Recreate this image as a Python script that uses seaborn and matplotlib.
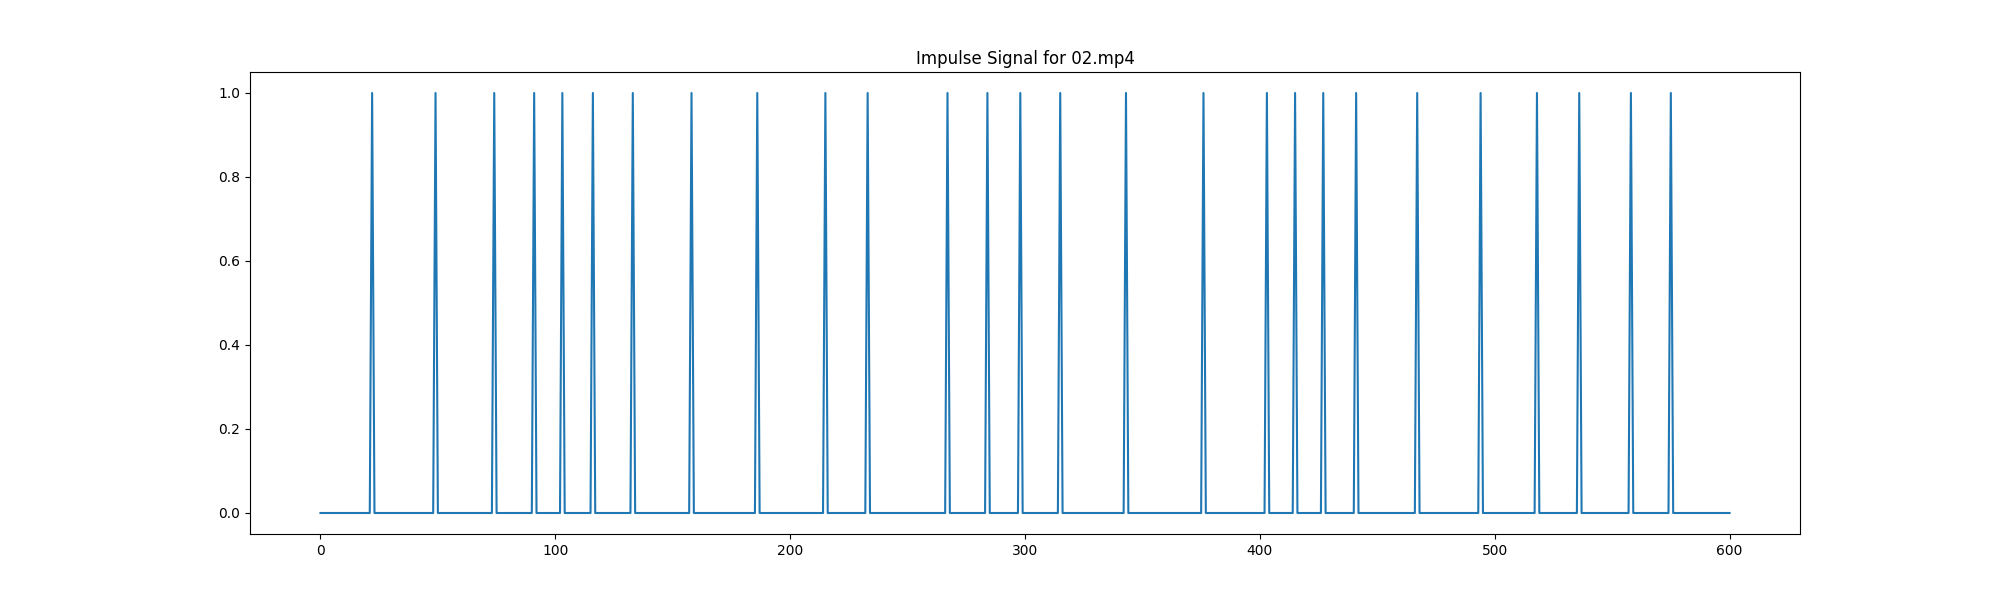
import numpy as np
import pandas as pd
import matplotlib
matplotlib.use("Agg")
import matplotlib.pyplot as plt
import seaborn as sns

# --- Data ---
N_FRAMES = 601
SPIKE_FRAMES = [22, 49, 74, 91, 103, 116, 133, 158, 186, 215, 233, 267, 284,
                298, 315, 343, 376, 403, 415, 427, 441, 467, 494, 518, 536,
                558, 575]
TITLE = "Impulse Signal for 02.mp4"

frames = np.arange(N_FRAMES)
signal = np.zeros(N_FRAMES)
signal[SPIKE_FRAMES] = 1.0
df = pd.DataFrame({"frame": frames, "impulse": signal})

fig, ax = plt.subplots(figsize=(20, 6), dpi=100)
sns.lineplot(data=df, x="frame", y="impulse", ax=ax, color="#1f77b4", linewidth=1.5)
ax.set_title(TITLE)
ax.set_xlabel("")
ax.set_ylabel("")
plt.savefig("out.png", dpi=100)
plt.close()
